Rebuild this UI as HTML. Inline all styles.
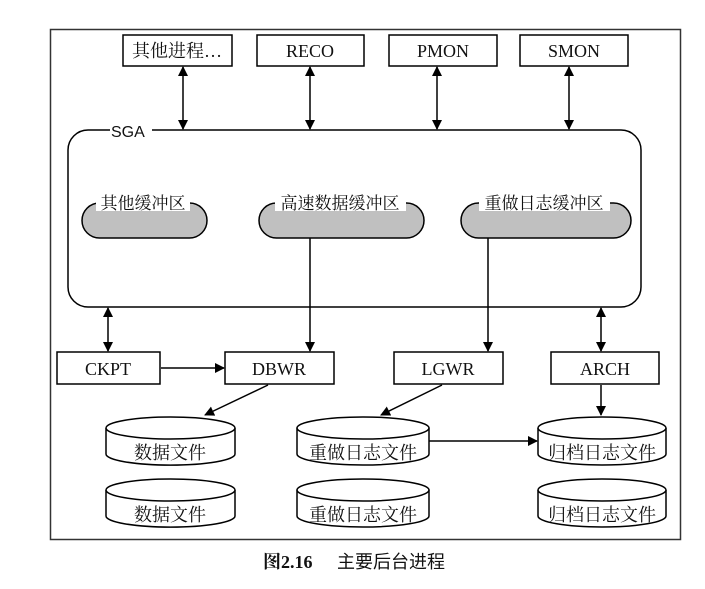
<!DOCTYPE html>
<html><head><meta charset="utf-8"><style>
body{margin:0;background:#fff;}
svg text{font-family:"Liberation Serif","Noto Serif CJK SC",serif;fill:#111;}
</style></head><body>
<svg width="705" height="584" viewBox="0 0 705 584" xmlns="http://www.w3.org/2000/svg">
<defs>
<marker id="a" markerWidth="10" markerHeight="10" refX="9" refY="5" orient="auto" markerUnits="userSpaceOnUse"><path d="M0,0 L10,5 L0,10 z" fill="#000"/></marker>
<marker id="s" markerWidth="10" markerHeight="10" refX="1" refY="5" orient="auto" markerUnits="userSpaceOnUse"><path d="M10,0 L0,5 L10,10 z" fill="#000"/></marker>
</defs>
<rect x="50.5" y="29.5" width="630" height="510" fill="none" stroke="#333" stroke-width="1.5"/>
<g fill="#fff" stroke="#000" stroke-width="1.5">
<rect x="123" y="35" width="109" height="31"/>
<rect x="257" y="35" width="107" height="31"/>
<rect x="389" y="35" width="108" height="31"/>
<rect x="520" y="35" width="108" height="31"/>
</g>
<g font-size="18" text-anchor="middle">
<text x="177" y="57">其他进程…</text>
<text x="310" y="57">RECO</text>
<text x="443" y="57">PMON</text>
<text x="574" y="57">SMON</text>
</g>
<g stroke="#000" stroke-width="1.5" marker-start="url(#s)" marker-end="url(#a)">
<line x1="183" y1="67" x2="183" y2="129"/>
<line x1="310" y1="67" x2="310" y2="129"/>
<line x1="437" y1="67" x2="437" y2="129"/>
<line x1="569" y1="67" x2="569" y2="129"/>
<line x1="108" y1="308" x2="108" y2="351"/>
<line x1="601" y1="308" x2="601" y2="351"/>
</g>
<rect x="68" y="130" width="573" height="177" rx="20" fill="none" stroke="#000" stroke-width="1.5"/>
<rect x="110" y="122" width="42" height="14" fill="#fff"/>
<text x="111" y="137" font-size="16" style="font-family:'Liberation Sans',sans-serif">SGA</text>
<g fill="#c0c0c0" stroke="#000" stroke-width="1.5">
<rect x="82" y="203" width="125" height="35" rx="17.5"/>
<rect x="259" y="203" width="165" height="35" rx="17.5"/>
<rect x="461" y="203" width="170" height="35" rx="17.5"/>
</g>
<g fill="#fff">
<rect x="96" y="193" width="94" height="18"/>
<rect x="275" y="193" width="131" height="18"/>
<rect x="479" y="193" width="131" height="18"/>
</g>
<g font-size="17" text-anchor="middle">
<text x="143" y="209">其他缓冲区</text>
<text x="340" y="209">高速数据缓冲区</text>
<text x="544" y="209">重做日志缓冲区</text>
</g>
<g stroke="#000" stroke-width="1.5" marker-end="url(#a)">
<line x1="310" y1="238" x2="310" y2="351"/>
<line x1="488" y1="238" x2="488" y2="351"/>
<line x1="161" y1="368" x2="224" y2="368"/>
<line x1="268" y1="385" x2="205" y2="415"/>
<line x1="442" y1="385" x2="381" y2="415"/>
<line x1="601" y1="385" x2="601" y2="415"/>
<line x1="429" y1="441" x2="537" y2="441"/>
</g>
<g fill="#fff" stroke="#000" stroke-width="1.5">
<rect x="57" y="352" width="103" height="32"/>
<rect x="225" y="352" width="109" height="32"/>
<rect x="394" y="352" width="109" height="32"/>
<rect x="551" y="352" width="108" height="32"/>
</g>
<g font-size="18" text-anchor="middle">
<text x="108" y="375">CKPT</text>
<text x="279" y="375">DBWR</text>
<text x="448" y="375">LGWR</text>
<text x="605" y="375">ARCH</text>
</g>
<g fill="#fff" stroke="#000" stroke-width="1.5">
<path d="M106,428 v26 a64,11 0 0 0 129,0 v-26"/><ellipse cx="170.5" cy="428" rx="64.5" ry="11"/>
<path d="M106,490 v26 a64,11 0 0 0 129,0 v-26"/><ellipse cx="170.5" cy="490" rx="64.5" ry="11"/>
<path d="M297,428 v26 a66,11 0 0 0 132,0 v-26"/><ellipse cx="363" cy="428" rx="66" ry="11"/>
<path d="M297,490 v26 a66,11 0 0 0 132,0 v-26"/><ellipse cx="363" cy="490" rx="66" ry="11"/>
<path d="M538,428 v26 a64,11 0 0 0 128,0 v-26"/><ellipse cx="602" cy="428" rx="64" ry="11"/>
<path d="M538,490 v26 a64,11 0 0 0 128,0 v-26"/><ellipse cx="602" cy="490" rx="64" ry="11"/>
</g>
<g font-size="18" text-anchor="middle" style="fill:#333">
<text x="170" y="459">数据文件</text>
<text x="170" y="521">数据文件</text>
<text x="363" y="459">重做日志文件</text>
<text x="363" y="521">重做日志文件</text>
<text x="602" y="459">归档日志文件</text>
<text x="602" y="521">归档日志文件</text>
</g>
<text x="263" y="568" font-size="18" font-weight="bold">图2.16</text>
<text x="337" y="568" font-size="18" style="font-family:'Noto Sans CJK SC',sans-serif">主要后台进程</text>
</svg>
</body></html>
